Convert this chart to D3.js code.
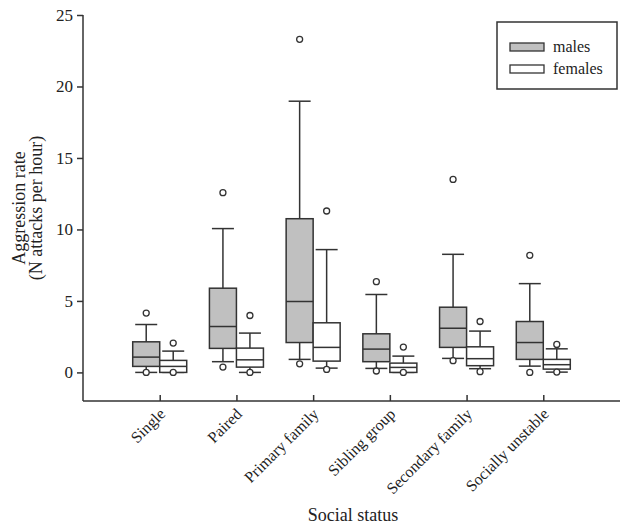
<!DOCTYPE html>
<meta charset="utf-8">
<style>
  body { margin: 0; background: #fff; }
  text { font-family: "Liberation Serif", "Times New Roman", serif; fill: #222; }
</style>
<div id="chart"></div>
<script src="https://cdn.jsdelivr.net/npm/d3@7"></script>
<script>

var categories = ["Single", "Paired", "Primary family", "Sibling group", "Secondary family", "Socially unstable"];
var sexes = ["males", "females"];

// each row: lower whisker, Q1, median, Q3, upper whisker
var maleStats = [
  [0, 0.42, 1.07, 2.14, 3.35],
  [0.75, 1.68, 3.21, 5.89, 10.06],
  [0.91, 2.09, 4.96, 10.75, 18.97],
  [0.28, 0.75, 1.63, 2.7, 5.45],
  [0.98, 1.75, 3.09, 4.56, 8.26],
  [0.44, 0.91, 2.09, 3.56, 6.21]
];
var femaleStats = [
  [0, 0, 0.42, 0.84, 1.49],
  [0, 0.37, 0.88, 1.7, 2.75],
  [0.3, 0.79, 1.75, 3.47, 8.59],
  [0, 0, 0.35, 0.65, 1.14],
  [0.26, 0.47, 0.96, 1.79, 2.89],
  [0.02, 0.23, 0.54, 0.91, 1.65]
];
var maleOutliers = [[0, 4.15], [0.37, 12.57], [0.6, 23.3], [0.1, 6.35], [0.82, 13.5], [0, 8.19]];
var femaleOutliers = [[0, 2.05], [0, 3.98], [0.21, 11.29], [0, 1.77], [0.05, 3.56], [0.02, 1.96]];
var yTicks = [0, 5, 10, 15, 20, 25];

var width = 620, height = 530;
var margin = {left: 83, top: 15, bottom: 401};
var ink = "#333";

var svg = d3.select("#chart").append("svg")
    .attr("width", width)
    .attr("height", height);

var x = d3.scalePoint()
    .domain(categories)
    .range([margin.left, width])
    .padding(1);

var sub = d3.scaleBand()
    .domain(sexes)
    .range([-27, 27]);

var y = d3.scaleLinear()
    .domain([-2, 25])
    .range([margin.bottom, margin.top]);

// Y axis
var yAxis = svg.append("g")
    .attr("transform", "translate(" + margin.left + ",0)")
    .call(d3.axisLeft(y).tickValues(yTicks).tickSize(6).tickPadding(4));
yAxis.select(".domain").attr("d", "M0," + margin.top + "V" + margin.bottom);
yAxis.selectAll("line, path").attr("stroke", ink).attr("stroke-width", 1.5);
yAxis.selectAll("text").style("font-size", "17px").attr("fill", "#222");

// X axis (ticks point inward)
var xAxis = svg.append("g")
    .attr("transform", "translate(0," + margin.bottom + ")")
    .call(d3.axisBottom(x).tickSize(-6).tickSizeOuter(0));
xAxis.select(".domain").attr("d", "M" + margin.left + ",0H" + width);
xAxis.selectAll("line, path").attr("stroke", ink).attr("stroke-width", 1.5);
xAxis.selectAll("text")
    .style("font-size", "16px")
    .attr("fill", "#222")
    .attr("text-anchor", "end")
    .attr("dy", null)
    .attr("y", 0)
    .attr("transform", "translate(6,14)rotate(-45)");

// Boxes
var groups = [
  {sex: "males", stats: maleStats, outliers: maleOutliers, fill: "#c0c0c0"},
  {sex: "females", stats: femaleStats, outliers: femaleOutliers, fill: "#fff"}
];

var bw = sub.bandwidth(), cap = 22;

groups.forEach(function(g) {
  var box = svg.append("g").selectAll("g")
    .data(categories)
    .enter().append("g")
      .attr("transform", function(d) { return "translate(" + (x(d) + sub(g.sex)) + ",0)"; });

  var s = function(i) { return g.stats[i]; };

  box.append("line")
      .attr("x1", bw / 2).attr("x2", bw / 2)
      .attr("y1", function(d, i) { return y(s(i)[0]); })
      .attr("y2", function(d, i) { return y(s(i)[4]); })
      .attr("stroke", ink).attr("stroke-width", 1.5);

  box.append("line")
      .attr("x1", (bw - cap) / 2).attr("x2", (bw + cap) / 2)
      .attr("y1", function(d, i) { return y(s(i)[0]); })
      .attr("y2", function(d, i) { return y(s(i)[0]); })
      .attr("stroke", ink).attr("stroke-width", 1.5);

  box.append("line")
      .attr("x1", (bw - cap) / 2).attr("x2", (bw + cap) / 2)
      .attr("y1", function(d, i) { return y(s(i)[4]); })
      .attr("y2", function(d, i) { return y(s(i)[4]); })
      .attr("stroke", ink).attr("stroke-width", 1.5);

  box.append("rect")
      .attr("x", 0)
      .attr("width", bw)
      .attr("y", function(d, i) { return y(s(i)[3]); })
      .attr("height", function(d, i) { return y(s(i)[1]) - y(s(i)[3]); })
      .attr("fill", g.fill)
      .attr("stroke", ink).attr("stroke-width", 1.5);

  box.append("line")
      .attr("x1", 0).attr("x2", bw)
      .attr("y1", function(d, i) { return y(s(i)[2]); })
      .attr("y2", function(d, i) { return y(s(i)[2]); })
      .attr("stroke", ink).attr("stroke-width", 1.5);

  box.selectAll("circle")
    .data(function(d, i) { return g.outliers[i]; })
    .enter().append("circle")
      .attr("cx", bw / 2)
      .attr("cy", function(v) { return y(v); })
      .attr("r", 3)
      .attr("fill", "#fff")
      .attr("stroke", ink).attr("stroke-width", 1.3);
});

// Legend
var legend = svg.append("g");
legend.append("rect")
    .attr("x", 497).attr("y", 22)
    .attr("width", 120).attr("height", 67)
    .attr("fill", "#fff")
    .attr("stroke", ink).attr("stroke-width", 1.5);

var item = legend.selectAll(".item")
  .data(groups)
  .enter().append("g")
    .attr("transform", function(d, i) { return "translate(510," + (43 + i * 22) + ")"; });
item.append("rect")
    .attr("width", 34).attr("height", 8)
    .attr("fill", function(d) { return d.fill; })
    .attr("stroke", ink).attr("stroke-width", 1.3);
item.append("text")
    .attr("x", 43).attr("y", 9)
    .style("font-size", "16px")
    .text(function(d) { return d.sex; });

// Axis titles
var yTitle = svg.append("text")
    .attr("transform", "translate(0," + ((margin.top + margin.bottom) / 2) + ")rotate(-90)")
    .attr("text-anchor", "middle")
    .style("font-size", "18px");
yTitle.append("tspan").attr("x", 0).attr("y", 25).text("Aggression rate");
yTitle.append("tspan").attr("x", 0).attr("y", 42).text("(N attacks per hour)");

svg.append("text")
    .attr("x", 353).attr("y", 521)
    .attr("text-anchor", "middle")
    .style("font-size", "18px")
    .text("Social status");

</script>
